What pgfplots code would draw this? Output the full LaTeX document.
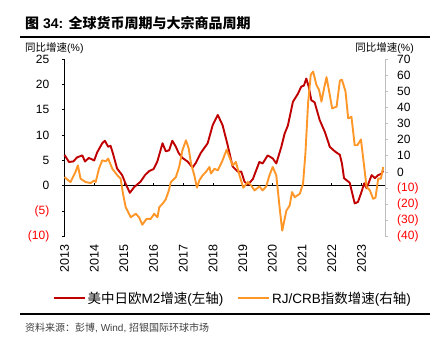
\documentclass[border=0pt]{standalone}
\usepackage{fontspec}
\setmainfont{Liberation Sans}
\newfontfamily\cjk{Noto Sans CJK SC}
\usepackage{pgfplots}
\pgfplotsset{compat=1.18}
\definecolor{mred}{RGB}{192,0,0}
\definecolor{morange}{RGB}{255,150,40}
\definecolor{axgray}{RGB}{190,190,190}

\pgfplotstableread{
x y
2013.00 6.1
2013.15 4.7
2013.30 4.8
2013.42 5.6
2013.60 6.0
2013.69 4.8
2013.82 5.5
2014.00 5.0
2014.10 6.6
2014.27 8.4
2014.36 8.9
2014.47 7.7
2014.55 7.9
2014.63 6.4
2014.77 3.4
2014.94 2.1
2015.05 0.5
2015.20 -1.4
2015.34 -0.3
2015.56 0.8
2015.71 2.1
2015.85 2.9
2016.00 3.3
2016.12 4.7
2016.30 8.4
2016.41 6.8
2016.52 7.0
2016.63 8.9
2016.75 7.7
2016.84 6.5
2016.97 5.5
2017.14 4.8
2017.31 3.6
2017.42 4.5
2017.59 6.5
2017.82 8.4
2017.99 12.0
2018.16 14.0
2018.32 12.0
2018.49 8.1
2018.66 3.8
2018.83 2.8
2018.95 2.8
2019.06 0.8
2019.17 0.2
2019.34 1.3
2019.56 4.7
2019.67 4.4
2019.84 6.0
2020.01 5.4
2020.13 4.4
2020.30 7.7
2020.41 10.3
2020.52 11.9
2020.69 16.6
2020.86 18.2
2020.97 19.6
2021.06 19.8
2021.14 21.2
2021.22 19.6
2021.31 16.9
2021.42 16.5
2021.59 13.0
2021.76 10.7
2021.93 7.7
2022.10 6.8
2022.27 6.1
2022.34 4.4
2022.41 1.5
2022.60 0.6
2022.77 -3.5
2022.88 -3.2
2023.00 -1.2
2023.09 0.5
2023.17 -0.5
2023.34 2.1
2023.45 1.5
2023.56 2.1
2023.68 2.4
2023.73 3.0
}\mtwo

\pgfplotstableread{
x y
2013.00 -3.2
2013.20 -6.3
2013.37 0
2013.45 4.1
2013.54 -4.2
2013.71 -6.3
2013.88 -6.9
2014.00 -5.3
2014.05 -6.3
2014.16 2.0
2014.27 7.2
2014.39 6.6
2014.47 8.3
2014.61 2.0
2014.78 -2.1
2014.89 -4.2
2014.97 -13.6
2015.06 -21.9
2015.23 -28.2
2015.40 -26
2015.51 -28.2
2015.62 -32.8
2015.76 -29.2
2015.90 -29.2
2016.02 -26
2016.13 -28.2
2016.19 -21.9
2016.30 -19.8
2016.41 -17
2016.52 -11
2016.58 -6.3
2016.75 -3.2
2016.86 3.1
2016.97 13.5
2017.09 19.7
2017.18 14.6
2017.26 5.2
2017.37 -2.1
2017.46 -9.8
2017.54 -5.2
2017.65 -2.1
2017.76 0
2017.88 3.1
2017.93 -1
2018.05 2.0
2018.16 1
2018.30 6.2
2018.46 13.9
2018.55 9.3
2018.66 4.1
2018.77 6.2
2018.89 -2.1
2019.02 -9.8
2019.17 -6.3
2019.28 -8.4
2019.40 -11.5
2019.56 -9
2019.67 -11.5
2019.79 -9
2019.90 -2.1
2020.01 3.1
2020.13 -2.1
2020.24 -21.9
2020.33 -36.5
2020.47 -24
2020.58 -20.9
2020.66 -12.5
2020.75 -15.7
2020.92 -13.6
2021.03 -7.3
2021.11 11.4
2021.20 42.7
2021.29 60.4
2021.37 62.4
2021.48 54.1
2021.57 51
2021.65 43.7
2021.74 52.1
2021.82 58.9
2021.90 51
2022.01 39.5
2022.16 40.6
2022.27 56.8
2022.34 57.3
2022.46 50
2022.55 33.3
2022.66 34.3
2022.77 16.6
2022.86 16.6
2022.98 20.2
2023.09 3.1
2023.17 -9.4
2023.28 -11.5
2023.39 -16.7
2023.47 -16
2023.56 -4.2
2023.65 -4.2
2023.73 3.1
}\crb

\begin{document}
\begin{tikzpicture}[x=1bp,y=1bp]
\useasboundingbox (0,0) rectangle (435,351);
\pgfplotsset{
  base/.style={at={(64.5bp,114.7bp)}, anchor=south west, scale only axis,
    width=320.5bp, height=177bp, xmin=2013, xmax=2023.79, clip=false,
    /pgf/number format/assume math mode=true},
}
% title
\node[anchor=west, inner sep=0pt] at (25,328) {\fontsize{14bp}{16bp}\selectfont{\cjk\bfseries 图} \textbf{34:} {\cjk\bfseries 全球货币周期与大宗商品周期}};
\draw[line width=1.8bp] (20,314) -- (430,314);
\node[anchor=west, inner sep=0pt] at (25,303) {\fontsize{10.5bp}{12bp}\selectfont{\cjk 同比增速}(\%)};
\node[anchor=east, inner sep=0pt] at (414,303) {\fontsize{10.5bp}{12bp}\selectfont{\cjk 同比增速}(\%)};

% zero line with ticks
\begin{axis}[base, ymin=-10, ymax=25, axis y line=none, axis x line*=middle,
  axis line style={-, black, line width=0.9bp},
  xtick={2013,2014,...,2023}, xticklabels={}, tick align=inside,
  major tick length=3bp, x tick style={black, line width=0.8bp}]
\end{axis}

% left axis, red
\begin{axis}[base, ymin=-10, ymax=25, hide x axis, axis y line*=left,
  axis line style={-, black, line width=0.9bp},
  ytick={-10,-5,0,5,10,15,20,25},
  yticklabels={{\color{red}(10)},{\color{red}(5)},0,5,10,15,20,25},
  tick align=outside, major tick length=3bp, y tick style={black, line width=0.8bp},
  yticklabel style={font=\fontsize{12bp}{14bp}\selectfont, inner sep=0pt},
  yticklabel shift=12bp]
\addplot[mred, line width=1.9bp, line join=round] table {\mtwo};
\end{axis}

% right axis, orange
\begin{axis}[base, ymin=-40, ymax=70, hide x axis, axis y line*=right,
  axis line style={-, axgray, line width=0.9bp},
  ytick={-40,-30,...,70},
  yticklabels={{\color{red}(40)},{\color{red}(30)},{\color{red}(20)},{\color{red}(10)},0,10,20,30,40,50,60,70},
  tick align=outside, major tick length=3bp, y tick style={axgray, line width=0.8bp},
  yticklabel style={font=\fontsize{12bp}{14bp}\selectfont, inner sep=0pt, anchor=west},
  yticklabel shift=9bp,
  legend columns=2,
  legend style={draw=none, fill=none, at={(0.525,-0.349)}, anchor=center,
    font=\fontsize{13.5bp}{15bp}\selectfont, inner sep=0pt,
    /tikz/every even column/.append style={column sep=12bp}},
  legend image code/.code={\draw[#1, line width=1.9bp] (0bp,0bp) -- (31bp,0bp);}]
\addlegendimage{mred, line width=1.9bp}
\addlegendentry{{\cjk 美中日欧}M2{\cjk 增速}({\cjk 左轴})}
\addplot[morange, line width=1.9bp, line join=round] table {\crb};
\addlegendentry{RJ/CRB{\cjk 指数增速}({\cjk 右轴})}
\end{axis}

% x labels
\begin{axis}[base, ymin=-10, ymax=25, axis y line=none, axis x line*=bottom,
  axis line style={draw=none}, major tick length=0pt,
  xtick={2013,2014,...,2023},
  xticklabels={2013,2014,2015,2016,2017,2018,2019,2020,2021,2022,2023},
  xticklabel style={rotate=90, anchor=east, inner sep=0pt, font=\fontsize{12.5bp}{14bp}\selectfont},
  xticklabel shift=8bp]
\end{axis}

\draw[line width=1.8bp] (20,37) -- (430,37);
\node[anchor=west, inner sep=0pt, text=black!75] at (25,23) {\fontsize{10bp}{12bp}\selectfont{\cjk 资料来源：彭博}, Wind, {\cjk 招银国际环球市场}};
\end{tikzpicture}
\end{document}
